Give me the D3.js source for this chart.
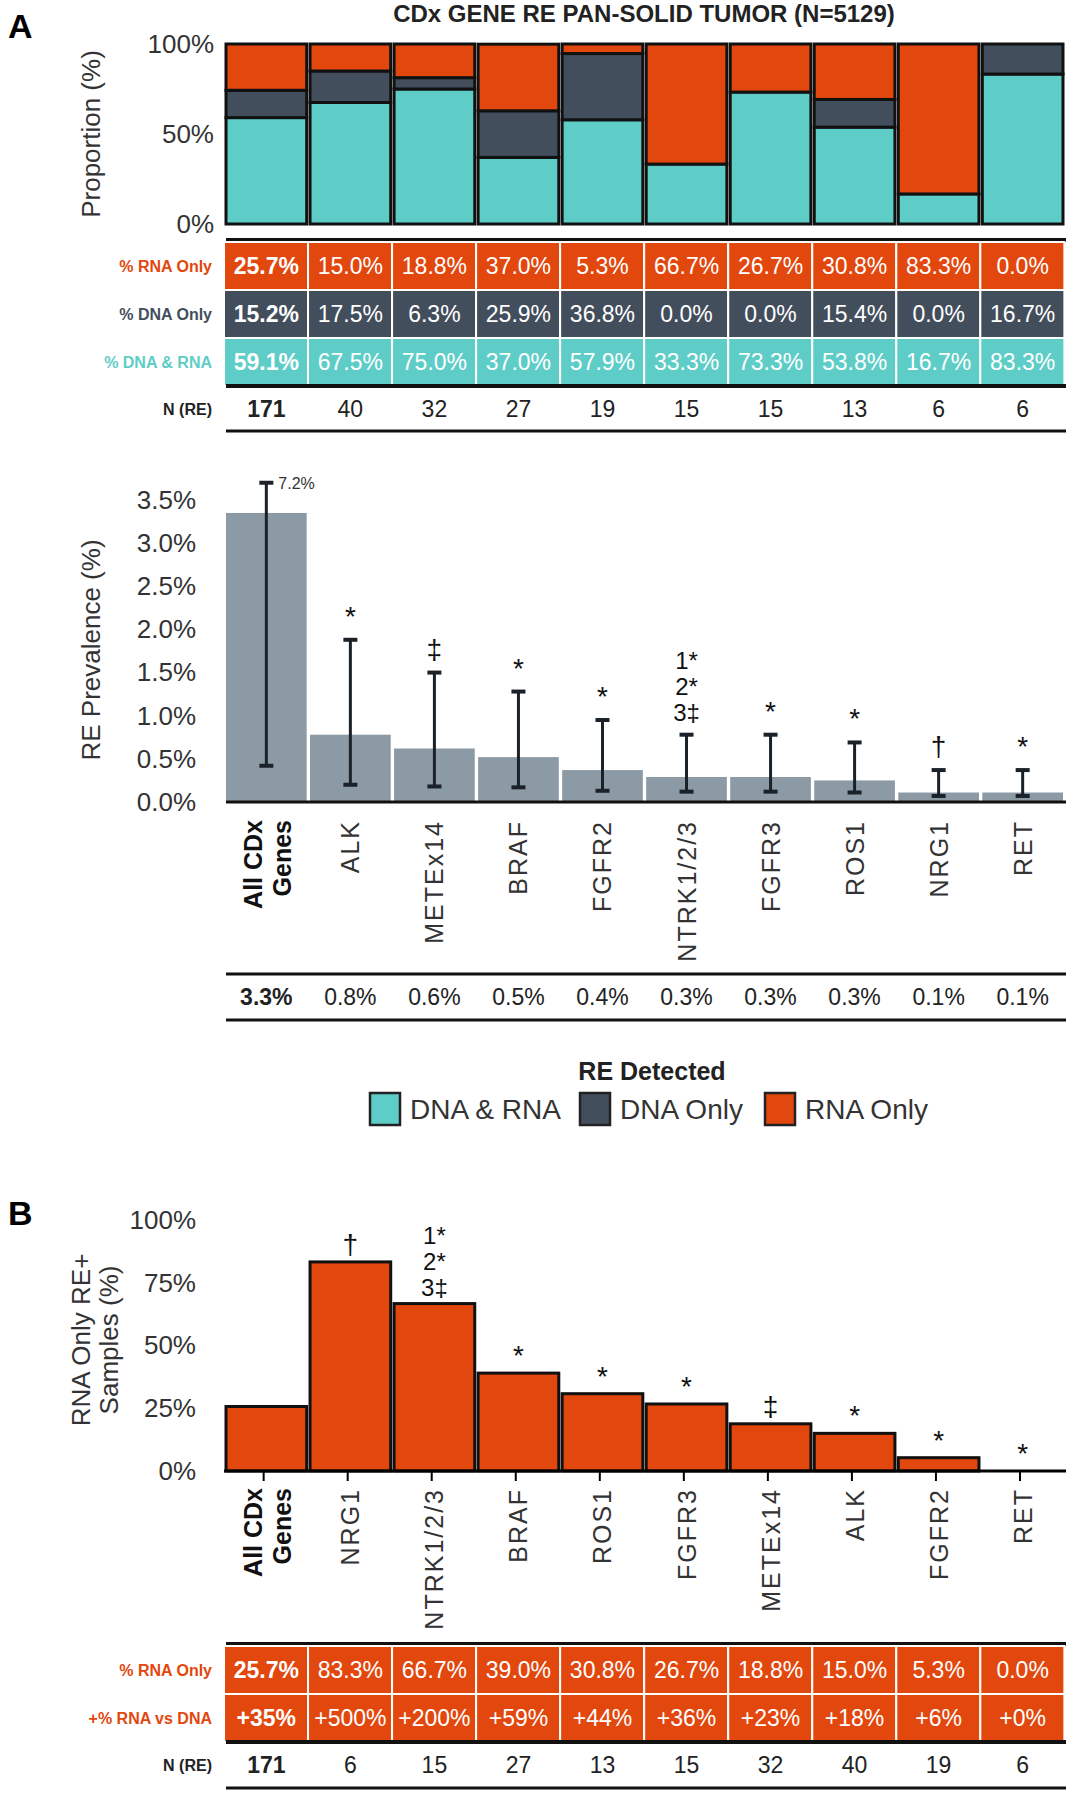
<!DOCTYPE html>
<html><head><meta charset="utf-8">
<script src="https://cdn.jsdelivr.net/npm/d3@7"></script>
<style>
body{margin:0;background:#fff}
text{font-family:"Liberation Sans Narrow","Liberation Sans",Arial,sans-serif}
.num{font-size:22px}
</style></head><body>
<svg id="c" width="1080" height="1800"></svg>
<script>
const genesA = ['All CDx Genes','ALK','METEx14','BRAF','FGFR2','NTRK1/2/3','FGFR3','ROS1','NRG1','RET'];
const rnaOnly = [25.7,15.0,18.8,37.0,5.3,66.7,26.7,30.8,83.3,0.0];
const dnaOnly = [15.2,17.5,6.3,25.9,36.8,0.0,0.0,15.4,0.0,16.7];
const dnaRna = [59.1,67.5,75.0,37.0,57.9,33.3,73.3,53.8,16.7,83.3];
const nA = [171,40,32,27,19,15,15,13,6,6];
const prevalence = [3.35,0.78,0.62,0.52,0.37,0.29,0.29,0.25,0.11,0.11];
const prevLabel = ['3.3%','0.8%','0.6%','0.5%','0.4%','0.3%','0.3%','0.3%','0.1%','0.1%'];
const ciLow = [0.42,0.20,0.18,0.17,0.13,0.12,0.12,0.11,0.07,0.07];
const ciHigh = [3.7,1.88,1.50,1.28,0.95,0.78,0.78,0.69,0.37,0.37];
const marksA = ['','*','‡','*','*','1*\n2*\n3‡','*','*','†','*'];
const prevTicks = [0,0.5,1,1.5,2,2.5,3,3.5];

const genesB = ['All CDx Genes','NRG1','NTRK1/2/3','BRAF','ROS1','FGFR3','METEx14','ALK','FGFR2','RET'];
const rnaB = [25.7,83.3,66.7,39.0,30.8,26.7,18.8,15.0,5.3,0.0];
const gainB = ['+35%','+500%','+200%','+59%','+44%','+36%','+23%','+18%','+6%','+0%'];
const nB = [171,6,15,27,13,15,32,40,19,6];
const marksB = ['','†','1*\n2*\n3‡','*','*','*','‡','*','*','*'];

const C = {teal:'#5fcdc7', dark:'#434e5c', orange:'#e2470e'};
const svg = d3.select('#c');
const x = d3.scaleBand().domain(d3.range(10)).range([226,1063]).paddingInner(0.04);
const fmt = v => v.toFixed(1)+'%';

svg.append('text').attr('x',8).attr('y',38).attr('font-size',34).attr('font-weight','bold').attr('font-family','Liberation Sans').text('A');
svg.append('text').attr('x',8).attr('y',1225).attr('font-size',34).attr('font-weight','bold').attr('font-family','Liberation Sans').text('B');
svg.append('text').attr('x',644).attr('y',22).attr('text-anchor','middle').attr('font-size',24).attr('font-weight','bold')
  .attr('font-family','Liberation Sans').attr('fill','#222').text('CDx GENE RE PAN-SOLID TUMOR (N=5129)');

// top stacked proportion
const yP = d3.scaleLinear().domain([0,100]).range([224,44]);
const stack = d3.stack().keys(['b','m','t'])(d3.range(10).map(i=>({b:dnaRna[i],m:dnaOnly[i],t:rnaOnly[i]})));
const cols = [C.teal,C.dark,C.orange];
stack.forEach((s,k)=>{
  svg.append('g').selectAll('rect').data(s).join('rect')
    .attr('x',(d,i)=>x(i)).attr('width',x.bandwidth())
    .attr('y',d=>yP(Math.min(100,d[1]))).attr('height',d=>Math.max(0,yP(d[0])-yP(Math.min(100,d[1]))))
    .attr('fill',cols[k]).attr('stroke','#111').attr('stroke-width',d=>d[1]-d[0]>0?3:0);
});
svg.append('g').attr('transform','translate(222,0)').call(d3.axisLeft(yP).tickValues([0,50,100]).tickFormat(d=>d+'%').tickSize(0).tickPadding(8))
  .call(g=>g.select('.domain').remove()).selectAll('text').attr('font-size',26).attr('fill','#333');
svg.append('text').attr('transform','translate(100,134) rotate(-90)').attr('text-anchor','middle').attr('font-size',26)
  .attr('font-family','Liberation Sans').attr('fill','#333').text('Proportion (%)');

// table helper
function row(y0,h,fill,vals,label,labCol,bold0,txtCol){
  if(fill){
    svg.append('g').selectAll('rect').data(vals).join('rect')
      .attr('x',(d,i)=>x(i)-2).attr('width',x.step()).attr('y',y0).attr('height',h)
      .attr('fill',fill).attr('stroke','#fff').attr('stroke-width',2);
  }
  svg.append('g').selectAll('text').data(vals).join('text')
    .attr('x',(d,i)=>x(i)+x.bandwidth()/2).attr('y',y0+h/2+8).attr('text-anchor','middle')
    .attr('font-size',23).attr('fill',txtCol).attr('font-weight',(d,i)=>i===0&&bold0?'bold':'normal').text(d=>d);
  svg.append('text').attr('x',212).attr('y',y0+h/2+6).attr('text-anchor','end').attr('font-size',16)
    .attr('font-weight','bold').attr('fill',labCol).text(label);
}
svg.append('line').attr('x1',226).attr('x2',1066).attr('y1',240).attr('y2',240).attr('stroke','#111').attr('stroke-width',4);
row(242,48,C.orange,rnaOnly.map(fmt),'% RNA Only',C.orange,true,'#fff');
row(290,48,C.dark,dnaOnly.map(fmt),'% DNA Only',C.dark,true,'#fff');
row(338,48,C.teal,dnaRna.map(fmt),'% DNA & RNA',C.teal,true,'#fff');
svg.append('line').attr('x1',226).attr('x2',1066).attr('y1',386).attr('y2',386).attr('stroke','#111').attr('stroke-width',4);
row(386,46,null,nA,'N (RE)','#222',true,'#222');
svg.append('line').attr('x1',226).attr('x2',1066).attr('y1',431).attr('y2',431).attr('stroke','#111').attr('stroke-width',3);

// prevalence chart
const yR = d3.scaleLinear().domain([0,3.5]).range([802,500]);
svg.append('g').selectAll('rect').data(prevalence).join('rect')
  .attr('x',(d,i)=>x(i)).attr('width',x.bandwidth()).attr('y',d=>yR(d)).attr('height',d=>yR(0)-yR(d)).attr('fill','#8c9aa6');
svg.append('line').attr('x1',226).attr('x2',1066).attr('y1',yR(0)).attr('y2',yR(0)).attr('stroke','#111').attr('stroke-width',3);
const eb = svg.append('g').attr('stroke','#1a2128').attr('stroke-width',3);
d3.range(10).forEach(i=>{
  const cx=x(i)+x.bandwidth()/2;
  eb.append('line').attr('x1',cx).attr('x2',cx).attr('y1',yR(ciLow[i])).attr('y2',yR(ciHigh[i]));
  [ciLow[i],ciHigh[i]].forEach(v=>eb.append('line').attr('x1',cx-7).attr('x2',cx+7).attr('y1',yR(v)).attr('y2',yR(v)).attr('stroke-width',4));
  const lines = marksA[i].split('\n').filter(s=>s);
  lines.forEach((s,j)=>svg.append('text').attr('x',cx).attr('y',yR(ciHigh[i])-14-(lines.length-1-j)*26)
    .attr('text-anchor','middle').attr('font-size',s.length>1?24:28).attr('font-family','Liberation Sans').attr('fill','#111').text(s));
});
svg.append('text').attr('x',x(0)+x.bandwidth()/2+12).attr('y',yR(3.7)+6).attr('font-size',16).attr('fill','#333').text('7.2%');
svg.append('g').attr('transform','translate(222,0)').call(d3.axisLeft(yR).tickValues(prevTicks).tickFormat(d=>d.toFixed(1)+'%').tickSize(0).tickPadding(26))
  .call(g=>g.select('.domain').remove()).selectAll('text').attr('font-size',26).attr('fill','#333');
svg.append('text').attr('transform','translate(100,650) rotate(-90)').attr('text-anchor','middle').attr('font-size',26)
  .attr('font-family','Liberation Sans').attr('fill','#333').text('RE Prevalence (%)');

function geneLabels(genes,y0){
  genes.forEach((g,i)=>{
    const cx=x(i)+x.bandwidth()/2;
    if(i===0){
      const t=svg.append('text').attr('transform',`translate(${cx},${y0}) rotate(-90)`).attr('text-anchor','end')
        .attr('font-size',25).attr('font-weight','bold').attr('font-family','Liberation Sans').attr('fill','#111');
      t.append('tspan').attr('x',0).attr('dy',-4).text('All CDx');
      t.append('tspan').attr('x',0).attr('dy',29).text('Genes');
    } else {
      svg.append('text').attr('transform',`translate(${cx+9},${y0}) rotate(-90)`).attr('text-anchor','end')
        .attr('font-size',25).attr('letter-spacing',2).attr('font-family','Liberation Sans').attr('fill','#333').text(g);
    }
  });
}
geneLabels(genesA,820);
svg.append('line').attr('x1',226).attr('x2',1066).attr('y1',974).attr('y2',974).attr('stroke','#111').attr('stroke-width',3);
row(974,46,null,prevLabel,'','#222',true,'#222');
svg.append('line').attr('x1',226).attr('x2',1066).attr('y1',1020).attr('y2',1020).attr('stroke','#111').attr('stroke-width',3);

// legend
svg.append('text').attr('x',652).attr('y',1080).attr('text-anchor','middle').attr('font-size',25).attr('font-weight','bold')
  .attr('font-family','Liberation Sans').attr('fill','#222').text('RE Detected');
const leg=[['DNA & RNA',C.teal,370],['DNA Only',C.dark,580],['RNA Only',C.orange,765]];
leg.forEach(([t,c,lx])=>{
  svg.append('rect').attr('x',lx).attr('y',1093).attr('width',30).attr('height',32).attr('fill',c).attr('stroke','#222').attr('stroke-width',2.5);
  svg.append('text').attr('x',lx+40).attr('y',1119).attr('font-size',28).attr('fill','#333').text(t);
});

// panel B
const yB = d3.scaleLinear().domain([0,100]).range([1471,1220]);
svg.append('g').selectAll('rect').data(rnaB).join('rect')
  .attr('x',(d,i)=>x(i)).attr('width',x.bandwidth()).attr('y',d=>yB(d)).attr('height',d=>yB(0)-yB(d))
  .attr('fill',C.orange).attr('stroke','#111').attr('stroke-width',d=>d>0?3:0);
svg.append('g').attr('transform',`translate(0,${yB(0)})`).call(d3.axisBottom(x).tickSize(10).tickFormat(''))
  .call(g=>g.selectAll('line').attr('transform',`translate(${-x.step()/2+x.bandwidth()/2-1},0)`).attr('stroke-width',2))
  .call(g=>g.select('.domain').attr('d','M224,0H1066').attr('stroke-width',3));
d3.range(10).forEach(i=>{
  const cx=x(i)+x.bandwidth()/2;
  const lines = marksB[i].split('\n').filter(s=>s);
  lines.forEach((s,j)=>svg.append('text').attr('x',cx).attr('y',yB(rnaB[i])-8-(lines.length-1-j)*26)
    .attr('text-anchor','middle').attr('font-size',s.length>1?24:28).attr('font-family','Liberation Sans').attr('fill','#111').text(s));
});
svg.append('g').attr('transform','translate(222,0)').call(d3.axisLeft(yB).tickValues([0,25,50,75,100]).tickFormat(d=>d+'%').tickSize(0).tickPadding(26))
  .call(g=>g.select('.domain').remove()).selectAll('text').attr('font-size',26).attr('fill','#333');
const ty=svg.append('text').attr('transform','translate(90,1340) rotate(-90)').attr('text-anchor','middle').attr('font-size',26)
  .attr('font-family','Liberation Sans').attr('fill','#333');
ty.append('tspan').attr('x',0).attr('dy',0).text('RNA Only RE+');
ty.append('tspan').attr('x',0).attr('dy',28).text('Samples (%)');
geneLabels(genesB,1488);
svg.append('line').attr('x1',226).attr('x2',1066).attr('y1',1644).attr('y2',1644).attr('stroke','#111').attr('stroke-width',4);
row(1646,48,C.orange,rnaB.map(fmt),'% RNA Only',C.orange,true,'#fff');
row(1694,48,C.orange,gainB,'+% RNA vs DNA',C.orange,true,'#fff');
svg.append('line').attr('x1',226).attr('x2',1066).attr('y1',1742).attr('y2',1742).attr('stroke','#111').attr('stroke-width',4);
row(1742,46,null,nB,'N (RE)','#222',true,'#222');
svg.append('line').attr('x1',226).attr('x2',1066).attr('y1',1788).attr('y2',1788).attr('stroke','#111').attr('stroke-width',3);
</script></body></html>
